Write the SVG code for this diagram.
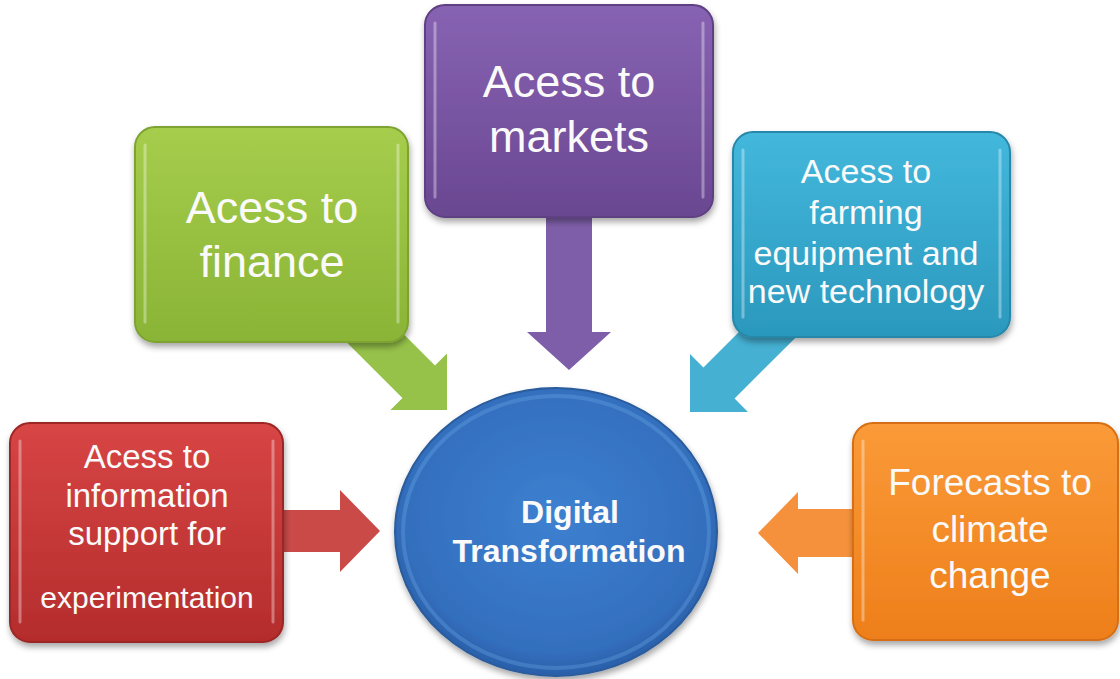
<svg xmlns="http://www.w3.org/2000/svg" width="1120" height="679" viewBox="0 0 1120 679">
<defs>
<filter id="sh" x="-10%" y="-10%" width="125%" height="130%">
<feDropShadow dx="1" dy="4" stdDeviation="3" flood-color="#000" flood-opacity="0.35"/>
</filter>
<linearGradient id="gGreen" x1="0" y1="0" x2="0" y2="1"><stop offset="0" stop-color="#a6cd4c"/><stop offset="1" stop-color="#8ab436"/></linearGradient>
<linearGradient id="gPurple" x1="0" y1="0" x2="0" y2="1"><stop offset="0" stop-color="#8763b3"/><stop offset="1" stop-color="#6a4791"/></linearGradient>
<linearGradient id="gBlue" x1="0" y1="0" x2="0" y2="1"><stop offset="0" stop-color="#43b8dc"/><stop offset="1" stop-color="#2b98bd"/></linearGradient>
<linearGradient id="gRed" x1="0" y1="0" x2="0" y2="1"><stop offset="0" stop-color="#d84545"/><stop offset="1" stop-color="#b42c2c"/></linearGradient>
<linearGradient id="gOrange" x1="0" y1="0" x2="0" y2="1"><stop offset="0" stop-color="#fa9a38"/><stop offset="1" stop-color="#ee7f1a"/></linearGradient>
<radialGradient id="gCircle" cx="0.5" cy="0.45" r="0.55"><stop offset="0" stop-color="#3d80d0"/><stop offset="0.85" stop-color="#336fbe"/><stop offset="1" stop-color="#2a5fa8"/></radialGradient>
</defs>
<style>
.box{stroke-width:2;filter:url(#sh)}
.hl{fill:none;stroke:#ffffff;stroke-opacity:0.35;stroke-width:3;stroke-linecap:round}
.t{font-family:"Liberation Sans",Arial,sans-serif;fill:#fafafa;text-anchor:middle}
.b{font-weight:bold}
.arr{stroke:none}
</style>

<g id="connectors">
<polygon class="arr" fill="#96c24a" transform="translate(447,410) rotate(45)" points="-125,-23 -40,-23 -40,-40 0,0 -40,40 -40,23 -125,23"/>
<polygon class="arr" fill="#7e5ea8" transform="translate(569,370) rotate(90)" points="-170,-23 -38,-23 -38,-42 0,0 -38,42 -38,23 -170,23"/>
<polygon class="arr" fill="#45b0d2" transform="translate(690,412) rotate(135)" points="-130,-22 -41,-22 -41,-41 0,0 -41,41 -41,22 -130,22"/>
<polygon class="arr" fill="#ca4a48" transform="translate(380,531) rotate(0)" points="-110,-21 -40,-21 -40,-41 0,0 -40,41 -40,21 -110,21"/>
<polygon class="arr" fill="#f5913c" transform="translate(758,533) rotate(180)" points="-110,-24 -40,-24 -40,-41 0,0 -40,41 -40,24 -110,24"/>
</g>

<g id="finance">
<rect class="box" x="135" y="127" width="273" height="215" rx="20" fill="url(#gGreen)" stroke="#7ea332"/>
<line class="hl" x1="145" y1="145" x2="145" y2="322"/>
<line class="hl" x1="398" y1="145" x2="398" y2="322" stroke-opacity="0.2"/>
<text class="t" font-size="45" x="272" y="223">Acess to</text>
<text class="t" font-size="45" x="272" y="277">finance</text>
</g>

<g id="markets">
<rect class="box" x="425" y="5" width="288" height="212" rx="20" fill="url(#gPurple)" stroke="#5e3f82"/>
<line class="hl" x1="435" y1="23" x2="435" y2="197"/>
<line class="hl" x1="703" y1="23" x2="703" y2="197" stroke-opacity="0.25"/>
<text class="t" font-size="45" x="569" y="97">Acess to</text>
<text class="t" font-size="45" x="569" y="152">markets</text>
</g>

<g id="farming">
<rect class="box" x="733" y="132" width="277" height="205" rx="20" fill="url(#gBlue)" stroke="#2787a8"/>
<line class="hl" x1="743" y1="150" x2="743" y2="317"/>
<line class="hl" x1="1000" y1="150" x2="1000" y2="317" stroke-opacity="0.25"/>
<text class="t" font-size="34" x="866" y="183">Acess to</text>
<text class="t" font-size="34" x="866" y="224">farming</text>
<text class="t" font-size="34" x="866" y="265">equipment and</text>
<text class="t" font-size="34" x="866" y="303">new technology</text>
</g>

<g id="information">
<rect class="box" x="10" y="423" width="273" height="219" rx="20" fill="url(#gRed)" stroke="#9c2626"/>
<line class="hl" x1="20" y1="441" x2="20" y2="622"/>
<line class="hl" x1="273" y1="441" x2="273" y2="622" stroke-opacity="0.2"/>
<text class="t" font-size="33" x="147" y="468">Acess to</text>
<text class="t" font-size="33" x="147" y="507">information</text>
<text class="t" font-size="33" x="147" y="545">support for</text>
<text class="t" font-size="30" x="147" y="608">experimentation</text>
</g>

<g id="climate">
<rect class="box" x="853" y="423" width="265" height="217" rx="20" fill="url(#gOrange)" stroke="#d66e12"/>
<line class="hl" x1="863" y1="441" x2="863" y2="620" stroke="#ffe9a0" stroke-opacity="0.5"/>
<text class="t" font-size="37" x="990" y="495">Forecasts to</text>
<text class="t" font-size="37" x="990" y="542">climate</text>
<text class="t" font-size="37" x="990" y="588">change</text>
</g>

<g id="digital">
<ellipse cx="556" cy="532" rx="161" ry="144" fill="url(#gCircle)" stroke="#2a5b9c" stroke-width="2" filter="url(#sh)"/>
<ellipse cx="556" cy="532" rx="153" ry="136" fill="none" stroke="#6aa5e6" stroke-opacity="0.35" stroke-width="4"/>
<text class="t b" font-size="32" x="570" y="523">Digital</text>
<text class="t b" font-size="32" x="569" y="562">Transformation</text>
</g>
</svg>
